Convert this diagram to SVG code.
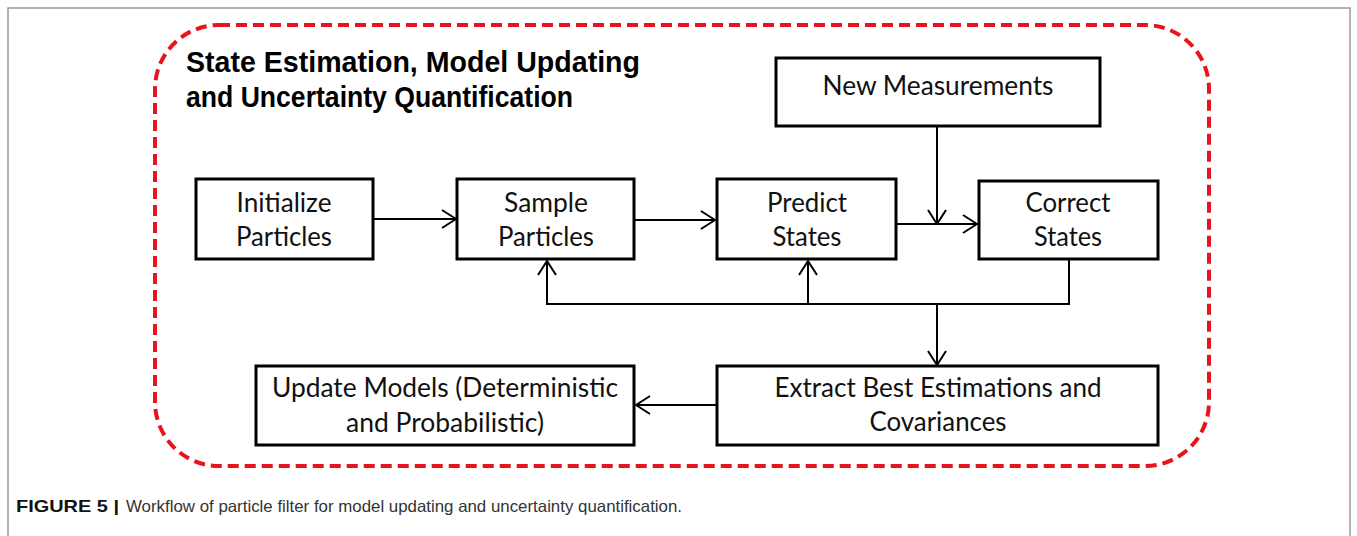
<svg xmlns="http://www.w3.org/2000/svg" width="1357" height="536" viewBox="0 0 1357 536">
<style>
.box{fill:#fff;stroke:#000;stroke-width:3}
.lbl{font-family:Lato,"Liberation Sans",sans-serif;font-size:26px;fill:#111;text-anchor:middle}
.title{font-family:"Liberation Sans",Arial,sans-serif;font-weight:bold;font-size:30px;fill:#000}
.con{fill:none;stroke:#000;stroke-width:2}
.cap{font-family:"Liberation Sans",Arial,sans-serif;font-size:16.5px;fill:#333}
</style>
<defs>
<marker id="arr" viewBox="0 0 16 20" refX="15" refY="10" markerWidth="16" markerHeight="20" markerUnits="userSpaceOnUse" orient="auto">
<path d="M1,1 L15,10 L1,19" fill="none" stroke="#000" stroke-width="2"/>
</marker>
</defs>
<rect x="0" y="0" width="1357" height="536" fill="#fff"/>
<path d="M8,545 L8,8 L1350,8 L1350,545" fill="none" stroke="#9a9a9a" stroke-width="1.5"/>
<rect x="155" y="25" width="1054" height="441" rx="64" ry="64" fill="none" stroke="#e8141c" stroke-width="4" stroke-dasharray="11,6"/>
<g id="title">
<text class="title" x="186" y="72" textLength="454" lengthAdjust="spacingAndGlyphs">State Estimation, Model Updating</text>
<text class="title" x="186" y="107" textLength="387" lengthAdjust="spacingAndGlyphs">and Uncertainty Quantification</text>
</g>
<g id="connectors">
<line class="con" x1="373" y1="219" x2="456" y2="219" marker-end="url(#arr)"/>
<line class="con" x1="634" y1="220" x2="715" y2="220" marker-end="url(#arr)"/>
<line class="con" x1="896" y1="224" x2="977" y2="224" marker-end="url(#arr)"/>
<line class="con" x1="937" y1="126" x2="937" y2="224" marker-end="url(#arr)"/>
<polyline class="con" points="1069,259 1069,304 547,304 547,261" marker-end="url(#arr)"/>
<line class="con" x1="808" y1="304" x2="808" y2="261" marker-end="url(#arr)"/>
<line class="con" x1="937" y1="304" x2="937" y2="365" marker-end="url(#arr)"/>
<line class="con" x1="716" y1="405" x2="636" y2="405" marker-end="url(#arr)"/>
</g>
<g id="new-measurements">
<rect class="box" x="776" y="58" width="324" height="68"/>
<text class="lbl" x="938" y="95" textLength="231" lengthAdjust="spacingAndGlyphs">New Measurements</text>
</g>
<g id="initialize">
<rect class="box" x="196" y="179" width="177" height="80"/>
<text class="lbl" x="284" y="212" textLength="95" lengthAdjust="spacingAndGlyphs">Initialize</text>
<text class="lbl" x="284" y="246" textLength="96" lengthAdjust="spacingAndGlyphs">Particles</text>
</g>
<g id="sample">
<rect class="box" x="457" y="179" width="177" height="80"/>
<text class="lbl" x="546" y="212" textLength="84" lengthAdjust="spacingAndGlyphs">Sample</text>
<text class="lbl" x="546" y="246" textLength="96" lengthAdjust="spacingAndGlyphs">Particles</text>
</g>
<g id="predict">
<rect class="box" x="717" y="179" width="179" height="80"/>
<text class="lbl" x="807" y="212" textLength="80" lengthAdjust="spacingAndGlyphs">Predict</text>
<text class="lbl" x="807" y="246" textLength="69" lengthAdjust="spacingAndGlyphs">States</text>
</g>
<g id="correct">
<rect class="box" x="979" y="181" width="179" height="78"/>
<text class="lbl" x="1068" y="212" textLength="85" lengthAdjust="spacingAndGlyphs">Correct</text>
<text class="lbl" x="1068" y="246" textLength="68" lengthAdjust="spacingAndGlyphs">States</text>
</g>
<g id="update-models">
<rect class="box" x="256" y="366" width="378" height="79"/>
<text class="lbl" x="445" y="397" textLength="346" lengthAdjust="spacingAndGlyphs">Update Models (Deterministic</text>
<text class="lbl" x="445" y="432" textLength="198" lengthAdjust="spacingAndGlyphs">and Probabilistic)</text>
</g>
<g id="extract">
<rect class="box" x="717" y="366" width="441" height="79"/>
<text class="lbl" x="938" y="397" textLength="327" lengthAdjust="spacingAndGlyphs">Extract Best Estimations and</text>
<text class="lbl" x="938" y="431" textLength="137" lengthAdjust="spacingAndGlyphs">Covariances</text>
</g>
<g id="caption">
<text class="cap" x="16" y="512"><tspan font-weight="bold" fill="#111" textLength="103" lengthAdjust="spacingAndGlyphs">FIGURE 5 |</tspan><tspan x="126" textLength="556" lengthAdjust="spacingAndGlyphs">Workflow of particle filter for model updating and uncertainty quantification.</tspan></text>
</g>
</svg>
